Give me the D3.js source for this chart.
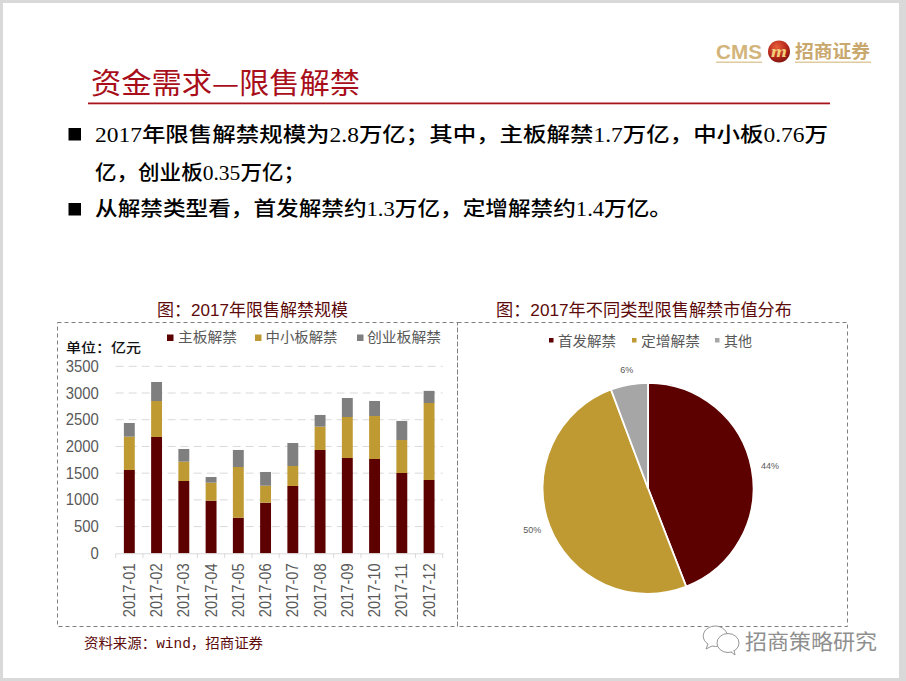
<!DOCTYPE html>
<html><head><meta charset="utf-8">
<script src="https://cdn.jsdelivr.net/npm/d3@7/dist/d3.min.js"></script>
<style>html,body{margin:0;padding:0;background:#fff;overflow:hidden}svg{display:block}</style>
</head><body><svg id="c" width="906" height="681"></svg>
<script>
const months=["2017-01","2017-02","2017-03","2017-04","2017-05","2017-06","2017-07","2017-08","2017-09","2017-10","2017-11","2017-12"];
const mainBoard=[1559,2177,1353,985,666,947,1260,1934,1784,1765,1503,1372];
const smeBoard=[624,673,362,337,949,318,374,436,767,805,617,1441];
const gemBoard=[256,356,237,106,319,257,430,219,356,281,357,227];
const barSeries=["主板解禁","中小板解禁","创业板解禁"];
const barColors=["#5c0000","#bf9a33","#7f7f7f"];
const yTicks=[0,500,1000,1500,2000,2500,3000,3500];
const pieLabels=["首发解禁","定增解禁","其他"];
const pieValues=[44.1,50.2,5.7];
const pieText=["44%","50%","6%"];
const pieColors=["#5c0000","#bf9a33","#a6a6a6"];
const bodyLines=["2017年限售解禁规模为2.8万亿\uFF1B其中\uFF0C主板解禁1.7万亿\uFF0C中小板0.76万","亿\uFF0C创业板0.35万亿\uFF1B","从解禁类型看\uFF0C首发解禁约1.3万亿\uFF0C定增解禁约1.4万亿。"];
const barTitle="图\uFF1A2017年限售解禁规模";
const pieTitle="图\uFF1A2017年不同类型限售解禁市值分布";
const unitLabel="单位\uFF1A亿元";
const sourceLabel="资料来源\uFF1Awind\uFF0C招商证券";

const CJK='"Noto Sans CJK SC"';
const BODY='"Liberation Serif","Noto Sans CJK SC"';
const svg=d3.select("#c");
function T(str,x,y,w,size,color,weight,family){
  const t=svg.append("text").attr("x",x).attr("y",y).text(str)
    .attr("font-size",size).attr("fill",color).attr("font-weight",weight||400)
    .attr("font-family",family||CJK);
  if(w) t.attr("textLength",w).attr("lengthAdjust","spacingAndGlyphs");
  return t;
}
// page frame
svg.append("rect").attr("width",906).attr("height",681).attr("fill","#d9d9d9");
svg.append("rect").attr("x",3).attr("y",3).attr("width",896).attr("height",675).attr("fill","#fff");

// logo
const defs=svg.append("defs");
const g=defs.append("radialGradient").attr("id","ball").attr("cx","40%").attr("cy","30%").attr("r","75%");
g.append("stop").attr("offset","0%").attr("stop-color","#e8603a");
g.append("stop").attr("offset","60%").attr("stop-color","#b5261a");
g.append("stop").attr("offset","100%").attr("stop-color","#7a1410");
T("CMS",716,59,46,21,"#d3b57c",700,'"Liberation Sans"');
svg.append("circle").attr("cx",779).attr("cy",51.5).attr("r",11).attr("fill","url(#ball)");
T("m",771,57,16,17,"#f2cf7a",700,'"Liberation Serif"').attr("font-style","italic");
T("招商证券",795,58,75,18,"#c9a86e",700);
svg.append("rect").attr("x",716).attr("y",61.5).attr("width",46).attr("height",1.5).attr("fill","#e0cba0");
svg.append("rect").attr("x",795).attr("y",61.5).attr("width",76).attr("height",1.5).attr("fill","#e0cba0");

// heading
T("资金需求—限售解禁",91,94,269,29,"#a80f1a",400);
svg.append("rect").attr("x",88).attr("y",102.5).attr("width",742).attr("height",1.8).attr("fill","#a8141c");

// bullets + text
svg.selectAll("rect.b").data([128,203]).join("rect").attr("class","b")
  .attr("x",68.5).attr("y",d=>d).attr("width",12.5).attr("height",12.5).attr("fill","#000");
T(bodyLines[0],95,142,733,20.5,"#000",500,BODY);
T(bodyLines[1],95,180,210,20.5,"#000",500,BODY);
T(bodyLines[2],95,216,577,20.5,"#000",500,BODY);

// chart titles
T(barTitle,157,316,191,17,"#5c0a0a",400,'"Liberation Sans","Noto Sans CJK SC"');
T(pieTitle,496,316,296,17,"#5c0a0a",400,'"Liberation Sans","Noto Sans CJK SC"');

// dashed frames
svg.selectAll("rect.f").data([[57.5,400],[457.5,390]]).join("rect").attr("class","f")
  .attr("x",d=>d[0]).attr("y",322.5).attr("width",d=>d[1]).attr("height",304)
  .attr("fill","none").attr("stroke","#7f7f7f").attr("stroke-width",1).attr("stroke-dasharray","4 3");

// ---- stacked bars
const x=d3.scaleBand().domain(months).range([115.7,442.7]).paddingInner(0.6).paddingOuter(0.3);
const y=d3.scaleLinear().domain([0,3500]).range([553.3,366.3]);
const rows=months.map((m,i)=>({m,a:mainBoard[i],b:smeBoard[i],c:gemBoard[i]}));
const stacked=d3.stack().keys(["a","b","c"])(rows);
const yAxis=svg.append("g").attr("transform","translate(115.7,0)")
  .call(d3.axisLeft(y).tickValues(yTicks).tickFormat(d3.format("d")).tickSize(0).tickPadding(17));
yAxis.select(".domain").remove();
yAxis.selectAll("text").attr("font-family",'"Liberation Sans"').attr("font-size",16).attr("fill","#595959")
  .attr("lengthAdjust","spacingAndGlyphs").attr("textLength",d=>String(d).length*8.25);
svg.append("g").selectAll("line").data(yTicks.slice(1)).join("line")
  .attr("x1",115.7).attr("x2",442.7).attr("y1",d=>y(d)).attr("y2",d=>y(d))
  .attr("stroke","#d9d9d9").attr("stroke-dasharray","8 5");
svg.append("g").selectAll("g").data(stacked).join("g").attr("fill",(d,i)=>barColors[i])
  .selectAll("rect").data(d=>d).join("rect")
  .attr("x",d=>x(d.data.m)).attr("width",x.bandwidth())
  .attr("y",d=>y(d[1])).attr("height",d=>y(d[0])-y(d[1]));
const xAxis=svg.append("g").attr("transform","translate(0,553.3)")
  .call(d3.axisBottom(x).tickSize(0).tickPadding(0));
xAxis.select(".domain").attr("stroke","#d9d9d9");
xAxis.selectAll("text").attr("font-family",'"Liberation Sans"').attr("font-size",16).attr("fill","#595959")
  .attr("text-anchor","end").attr("dy",0).attr("y",0)
  .attr("lengthAdjust","spacingAndGlyphs").attr("textLength",54)
  .attr("transform","translate(5.5,10) rotate(-90)");
const step=x.step();
svg.append("g").selectAll("line").data(d3.range(months.length+1)).join("line")
  .attr("x1",i=>115.7+i*step).attr("x2",i=>115.7+i*step).attr("y1",553.3).attr("y2",558)
  .attr("stroke","#d9d9d9");
// legend
const legX=[167,255,357], legTX=[178,265.5,367], legTW=[59,72,74];
barSeries.forEach((s,i)=>{
  svg.append("rect").attr("x",legX[i]).attr("y",334.5).attr("width",6.5).attr("height",6.5).attr("fill",barColors[i]);
  T(s,legTX[i],342,legTW[i],14,"#595959",400);
});
T(unitLabel,66,352,75,13,"#111",500);

// ---- pie
const pie=d3.pie().sort(null).value(d=>d)(pieValues);
const arc=d3.arc().innerRadius(0).outerRadius(105.5);
svg.append("g").attr("transform","translate(648,488.3)").selectAll("path").data(pie).join("path")
  .attr("d",arc).attr("fill",(d,i)=>pieColors[i]).attr("stroke","#fff").attr("stroke-width",1.8);
const labelRadius=[124,124,120], labelDy=[0,-3,0];
svg.append("g").attr("transform","translate(648,488.3)").selectAll("text").data(pie).join("text")
  .attr("transform",(d,i)=>{
    const c=d3.arc().innerRadius(labelRadius[i]).outerRadius(labelRadius[i]).centroid(d);
    return "translate("+c[0]+","+(c[1]+labelDy[i])+")";
  })
  .attr("text-anchor","middle").attr("dy","0.35em")
  .attr("font-family",'"Liberation Sans"').attr("font-size",9).attr("fill","#595959")
  .text((d,i)=>pieText[i]);
const pX=[549,632,715], pTX=[558,641,724], pTW=[58,59,28];
pieLabels.forEach((s,i)=>{
  svg.append("rect").attr("x",pX[i]).attr("y",338).attr("width",4.5).attr("height",4.5).attr("fill",pieColors[i]);
  T(s,pTX[i],345.5,pTW[i],14,"#595959",400);
});

// source
T(sourceLabel,84,648,179,14,"#5c0a0a",400,'"Liberation Mono","Noto Sans CJK SC"');

// watermark
const wm=svg.append("g").attr("fill","#fff").attr("stroke","#8a8a8a").attr("stroke-width",0.9);
wm.append("path").attr("d","M727 634 A12 10 0 1 0 708 644 L706 649 L712 646 Q716 647 719 646");
wm.append("ellipse").attr("cx",728).attr("cy",643).attr("rx",11).attr("ry",9.5);
wm.append("path").attr("d","M731 652 L735 655 L734 650").attr("fill","#fff");
T("招商策略研究",745,649,132,21,"#8f8f8f",400);
</script></body></html>
